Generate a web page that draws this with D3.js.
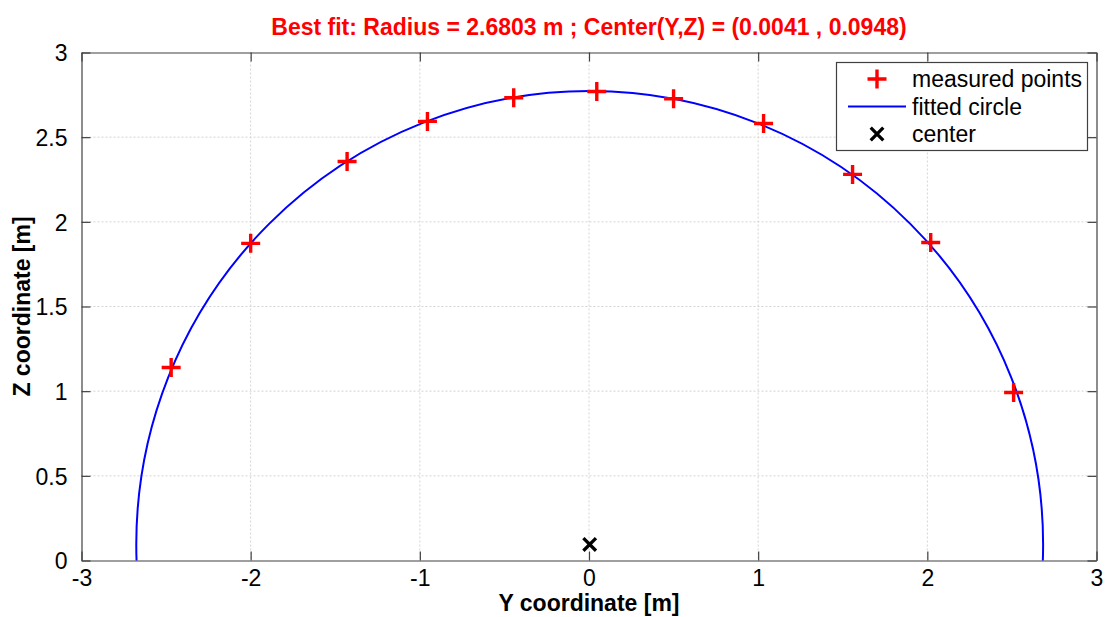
<!DOCTYPE html>
<html><head><meta charset="utf-8">
<script src="https://cdn.jsdelivr.net/npm/d3@7"></script>
<style>body{margin:0;background:#fff;} text{font-family:"Liberation Sans",Arial,sans-serif;}</style>
</head><body>
<svg id="chart" width="1106" height="617"></svg>
<script>
const pointsY = [-2.47, -2.00, -1.43, -0.955, -0.445, 0.046, 0.50, 1.032, 1.558, 2.02, 2.51];
const pointsZ = [1.14, 1.873, 2.356, 2.593, 2.733, 2.77, 2.727, 2.581, 2.28, 1.878, 0.992];
const centerY = 0.0041, centerZ = 0.0948, radius = 2.6803;
const xTicks = [-3, -2, -1, 0, 1, 2, 3];
const yTicks = [0, 0.5, 1, 1.5, 2, 2.5, 3];
const titleText = "Best fit: Radius = 2.6803 m ; Center(Y,Z) = (0.0041 , 0.0948)";
const legendLabels = ["measured points", "fitted circle", "center"];

const svg = d3.select("#chart");
const L = 81.5, R = 1096.5, T = 52.5, B = 560.5;
const FS = 23;
const x = d3.scaleLinear().domain([-3, 3]).range([L, R]);
const y = d3.scaleLinear().domain([0, 3]).range([B, T]);
const fmt = d => String(d);

svg.append("defs").append("clipPath").attr("id", "clip")
  .append("rect").attr("x", L).attr("y", T).attr("width", R - L).attr("height", B - T);

// grid
const grid = svg.append("g");
grid.selectAll(".gx").data(xTicks.slice(1, -1)).join("line")
  .attr("x1", d => x(d)).attr("x2", d => x(d)).attr("y1", T).attr("y2", B)
  .attr("stroke", "#d4d4d4").attr("stroke-dasharray", "2,2").attr("stroke-width", 1);
grid.selectAll(".gy").data(yTicks.slice(1, -1)).join("line")
  .attr("y1", d => y(d)).attr("y2", d => y(d)).attr("x1", L).attr("x2", R)
  .attr("stroke", "#d4d4d4").attr("stroke-dasharray", "2,2").attr("stroke-width", 1);

// axes with inward ticks
const tickLen = 9;
const axB = svg.append("g").attr("transform", `translate(0,${B})`)
  .call(d3.axisBottom(x).tickValues(xTicks).tickSizeInner(-tickLen).tickSizeOuter(0).tickPadding(9).tickFormat(fmt));
const axT = svg.append("g").attr("transform", `translate(0,${T})`)
  .call(d3.axisTop(x).tickValues(xTicks).tickSizeInner(-tickLen).tickSizeOuter(0).tickFormat(""));
const axL = svg.append("g").attr("transform", `translate(${L},0)`)
  .call(d3.axisLeft(y).tickValues(yTicks).tickSizeInner(-tickLen).tickSizeOuter(0).tickPadding(14).tickFormat(fmt));
const axR = svg.append("g").attr("transform", `translate(${R},0)`)
  .call(d3.axisRight(y).tickValues(yTicks).tickSizeInner(-tickLen).tickSizeOuter(0).tickFormat(""));
[axB, axT, axL, axR].forEach(a => {
  a.attr("font-size", FS).attr("font-family", "Liberation Sans, Arial, sans-serif");
  a.select(".domain").attr("stroke", "#404040").attr("stroke-width", 1.2);
  a.selectAll(".tick line").attr("stroke", "#404040").attr("stroke-width", 1.2);
  a.selectAll("text").attr("fill", "#000");
});
axL.selectAll("text").attr("dy", "0.36em");

// fitted circle
svg.append("circle").attr("clip-path", "url(#clip)")
  .attr("cx", x(centerY)).attr("cy", y(centerZ)).attr("r", x(radius) - x(0))
  .attr("fill", "none").attr("stroke", "#0000ff").attr("stroke-width", 2);

// measured points
const plus = (g, s) => g.append("path").attr("d", `M${-s},0H${s}M0,${-s}V${s}`);
const pts = svg.append("g");
pointsY.forEach((py, i) => {
  const g = pts.append("g").attr("transform", `translate(${x(py)},${y(pointsZ[i])})`);
  plus(g, 9.5).attr("stroke", "#ff0000").attr("stroke-width", 3.4).attr("fill", "none");
});

// center
const cross = (g, s) => g.append("path").attr("d", `M${-s},${-s}L${s},${s}M${-s},${s}L${s},${-s}`);
const cg = svg.append("g").attr("transform", `translate(${x(centerY)},${y(centerZ)})`);
cross(cg, 6.3).attr("stroke", "#000").attr("stroke-width", 3.3).attr("fill", "none");

// title & labels
svg.append("text").attr("x", x(0)).attr("y", 35).attr("text-anchor", "middle")
  .attr("font-size", 23).attr("font-weight", "bold").attr("fill", "#ff0000").text(titleText);
svg.append("text").attr("x", x(0)).attr("y", 611).attr("text-anchor", "middle")
  .attr("font-size", 23).attr("font-weight", "bold").attr("fill", "#000").text("Y coordinate [m]");
svg.append("text").attr("transform", `translate(30,${(T + B) / 2}) rotate(-90)`).attr("text-anchor", "middle")
  .attr("font-size", 23).attr("font-weight", "bold").attr("fill", "#000").text("Z coordinate [m]");

// legend
const lg = svg.append("g");
lg.append("rect").attr("x", 836.5).attr("y", 62.5).attr("width", 251).attr("height", 88)
  .attr("fill", "#fff").attr("stroke", "#404040").attr("stroke-width", 1.2);
const rowsY = [79, 106.5, 134];
legendLabels.forEach((t, i) => {
  lg.append("text").attr("x", 912).attr("y", rowsY[i]).attr("dy", "0.36em")
    .attr("font-size", FS).attr("fill", "#000").text(t);
});
plus(lg.append("g").attr("transform", `translate(877,${rowsY[0]})`), 9.5)
  .attr("stroke", "#ff0000").attr("stroke-width", 3.4);
lg.append("line").attr("x1", 848).attr("x2", 906).attr("y1", rowsY[1]).attr("y2", rowsY[1])
  .attr("stroke", "#0000ff").attr("stroke-width", 2);
cross(lg.append("g").attr("transform", `translate(877,${rowsY[2]})`), 6.3)
  .attr("stroke", "#000").attr("stroke-width", 3.3);
</script>
</body></html>
